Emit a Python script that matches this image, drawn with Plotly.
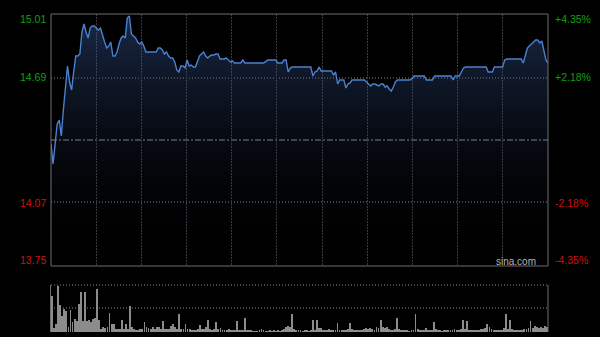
import plotly.graph_objects as go

W, H = 600, 337
prev_close = 14.38
y_labels_left = ["15.01", "14.69", "14.07", "13.75"]
y_label_vals = [15.01, 14.69, 14.07, 13.75]
y_labels_right = ["+4.35%", "+2.18%", "-2.18%", "-4.35%"]

prices = [
    14.36, 14.26, 14.36, 14.46, 14.48, 14.40, 14.53, 14.66, 14.75, 14.67,
    14.63, 14.72, 14.80, 14.80, 14.81, 14.92, 14.96, 14.92, 14.89, 14.94,
    14.95, 14.95, 14.94, 14.93, 14.94, 14.90, 14.87, 14.84, 14.85, 14.87,
    14.80, 14.80, 14.82, 14.86, 14.89, 14.90, 14.89, 14.99, 15.00, 14.91,
    14.90, 14.89, 14.87, 14.86, 14.87, 14.85, 14.82, 14.82, 14.82, 14.82,
    14.82, 14.82, 14.84, 14.84, 14.83, 14.81, 14.82, 14.80, 14.79, 14.79,
    14.77, 14.73, 14.72, 14.75, 14.75, 14.74, 14.78, 14.75, 14.755, 14.745,
    14.745, 14.77, 14.80, 14.81, 14.82, 14.80, 14.79, 14.80, 14.805, 14.805,
    14.81, 14.81, 14.785, 14.785, 14.785, 14.79, 14.78, 14.77, 14.775, 14.765,
    14.765, 14.765, 14.765, 14.78, 14.765, 14.765, 14.765, 14.765, 14.765, 14.765,
    14.765, 14.765, 14.765, 14.765, 14.77, 14.78, 14.78, 14.78, 14.78, 14.78,
    14.765, 14.765, 14.765, 14.78, 14.78, 14.72, 14.74, 14.745, 14.745, 14.745,
    14.745, 14.745, 14.745, 14.745, 14.745, 14.745, 14.745, 14.70, 14.72, 14.725,
    14.745, 14.725, 14.725, 14.725, 14.725, 14.725, 14.725, 14.705, 14.72, 14.66,
    14.68, 14.68, 14.68, 14.64, 14.66, 14.665, 14.68, 14.68, 14.68, 14.68,
    14.68, 14.68, 14.68, 14.67, 14.66, 14.65, 14.66, 14.66, 14.655, 14.65,
    14.66, 14.66, 14.645, 14.65, 14.635, 14.625, 14.645, 14.67, 14.68, 14.68,
    14.68, 14.68, 14.68, 14.68, 14.68, 14.685, 14.70, 14.70, 14.70, 14.70,
    14.70, 14.70, 14.68, 14.68, 14.68, 14.68, 14.70, 14.70, 14.70, 14.70,
    14.70, 14.70, 14.70, 14.70, 14.70, 14.68, 14.70, 14.70, 14.70, 14.72,
    14.74, 14.745, 14.745, 14.745, 14.745, 14.745, 14.745, 14.745, 14.745, 14.745,
    14.745, 14.745, 14.72, 14.72, 14.72, 14.745, 14.745, 14.745, 14.745, 14.745,
    14.78, 14.785, 14.785, 14.785, 14.785, 14.785, 14.785, 14.785, 14.785, 14.765,
    14.80, 14.84, 14.85, 14.86, 14.87, 14.88, 14.88, 14.865, 14.875, 14.83,
    14.78, 14.765,
]

volume = [
    36, 4, 8, 46, 27, 16, 23, 21, 5, 22,
    10, 13, 11, 28, 40, 11, 40, 11, 12, 10,
    13, 14, 43, 12, 3, 5, 4, 5, 19, 8,
    8, 3, 3, 3, 12, 3, 8, 3, 26, 5,
    3, 2, 2, 3, 3, 10, 5, 4, 3, 5,
    3, 5, 5, 3, 11, 3, 3, 3, 6, 8,
    5, 3, 18, 3, 3, 8, 3, 3, 2, 2,
    2, 3, 7, 3, 3, 5, 12, 3, 2, 3,
    10, 3, 4, 2, 2, 2, 3, 2, 2, 2,
    11, 2, 2, 2, 14, 2, 2, 2, 1, 1,
    1, 2, 3, 2, 1, 1, 2, 1, 2, 1,
    2, 1, 2, 3, 5, 6, 5, 18, 3, 2,
    2, 2, 1, 2, 2, 1, 2, 12, 2, 12,
    4, 4, 2, 2, 2, 3, 2, 2, 2, 9,
    2, 2, 2, 2, 3, 9, 3, 2, 2, 2,
    2, 2, 3, 4, 3, 4, 3, 2, 5, 4,
    12, 5, 4, 5, 3, 2, 2, 3, 14, 3,
    2, 2, 2, 2, 1, 2, 2, 18, 3, 2,
    2, 2, 4, 2, 2, 2, 10, 3, 2, 2,
    1, 2, 2, 2, 2, 2, 3, 2, 2, 3,
    12, 3, 11, 2, 2, 2, 2, 2, 2, 3,
    3, 4, 8, 5, 3, 2, 2, 2, 2, 2,
    4, 18, 3, 12, 3, 2, 2, 2, 2, 2,
    3, 3, 4, 11, 4, 6, 5, 4, 5, 4,
    6, 5,
]

minutes = list(range(len(prices)))
n_min = len(prices) - 1


def px(x):
    return x / W


def py(y):
    return 1 - y / H


X0, X1 = 51, 548
MAIN_T, MAIN_B = 14, 266
VOL_T, VOL_B = 285, 332

fig = go.Figure()

fig.add_trace(go.Scatter(
    x=minutes, y=prices, mode="lines",
    line=dict(color="#4a80d0", width=1.4),
    fill="tozeroy",
    fillgradient=dict(type="vertical",
                      colorscale=[[0, "rgba(0,0,0,0)"], [1, "rgba(70,110,190,0.38)"]],
                      start=13.75, stop=15.01),
    hoverinfo="skip", xaxis="x", yaxis="y",
))

fig.add_trace(go.Bar(
    x=minutes, y=volume, width=0.42,
    marker=dict(color="#8c8c8c", line=dict(width=0)),
    hoverinfo="skip", xaxis="x2", yaxis="y2",
))

grid_x = [n_min * k / 11 for k in range(1, 11)]

fig.update_layout(
    width=W, height=H, autosize=False,
    margin=dict(l=0, r=0, t=0, b=0),
    paper_bgcolor="#000000", plot_bgcolor="#000000",
    showlegend=False,
    xaxis=dict(domain=[px(X0), px(X1)], range=[0, n_min], tickvals=grid_x,
               showticklabels=False, ticks="", showgrid=True, gridcolor="#3c3c3c",
               griddash="2px,1px", gridwidth=1, zeroline=False, showline=False),
    yaxis=dict(domain=[py(MAIN_B), py(MAIN_T)], range=[13.75, 15.01],
               showticklabels=False, ticks="", showgrid=False, zeroline=False,
               showline=False),
    xaxis2=dict(domain=[px(X0), px(X1)], range=[-0.5, n_min + 0.5], anchor="y2",
                showticklabels=False, ticks="", showgrid=False, zeroline=False,
                showline=False),
    yaxis2=dict(domain=[py(VOL_B), py(VOL_T)], range=[0, 47], anchor="x2",
                showticklabels=False, ticks="", showgrid=False, zeroline=False,
                showline=False),
)

shapes = []
border = "#6e6e6e"
shapes.append(dict(type="rect", xref="paper", yref="paper",
                   x0=px(X0), x1=px(X1), y0=py(MAIN_B), y1=py(MAIN_T),
                   line=dict(color=border, width=1), layer="above"))
for v in [14.69, 14.07]:
    shapes.append(dict(type="line", xref="paper", yref="y", x0=px(X0), x1=px(X1),
                       y0=v, y1=v, line=dict(color="#8a8a8a", width=1, dash="1px,2px"),
                       layer="below"))
shapes.append(dict(type="line", xref="paper", yref="y", x0=px(X0), x1=px(X1),
                   y0=prev_close, y1=prev_close,
                   line=dict(color="#8a9099", width=1, dash="6px,2px,2px,2px"),
                   layer="below"))
for yy in [VOL_T, (VOL_T + VOL_B) / 2 - 0.5]:
    shapes.append(dict(type="line", xref="paper", yref="paper", x0=px(X0), x1=px(X1),
                       y0=py(yy), y1=py(yy), line=dict(color="#8a8a8a", width=1, dash="1px,2px"),
                       layer="below"))
for xx in [X0 - 0.5, X1]:
    shapes.append(dict(type="line", xref="paper", yref="paper", x0=px(xx), x1=px(xx),
                       y0=py(VOL_T), y1=py(VOL_B), line=dict(color=border, width=1),
                       layer="above"))
fig.update_layout(shapes=shapes)

label_y_px = [19, 77, 203, 260]
colors = ["#10a010", "#10a010", "#d01010", "#d01010"]
annotations = []
for txt, yp, c in zip(y_labels_left, label_y_px, colors):
    annotations.append(dict(text=txt, xref="paper", yref="paper", x=px(47.5), y=py(yp),
                            xanchor="right", yanchor="middle", showarrow=False,
                            font=dict(family="Arial, Liberation Sans", size=10.5, color=c)))
for txt, yp, c in zip(y_labels_right, label_y_px, colors):
    annotations.append(dict(text=txt, xref="paper", yref="paper", x=px(553), y=py(yp),
                            xanchor="left", yanchor="middle", showarrow=False,
                            font=dict(family="Arial, Liberation Sans", size=10.5, color=c)))
annotations.append(dict(text="sina.com", xref="paper", yref="paper", x=px(537.5), y=py(261.5),
                        xanchor="right", yanchor="middle", showarrow=False,
                        font=dict(family="Arial, Liberation Sans", size=10, color="#b4b4b4")))
fig.update_layout(annotations=annotations)

fig.write_html("out.html")
